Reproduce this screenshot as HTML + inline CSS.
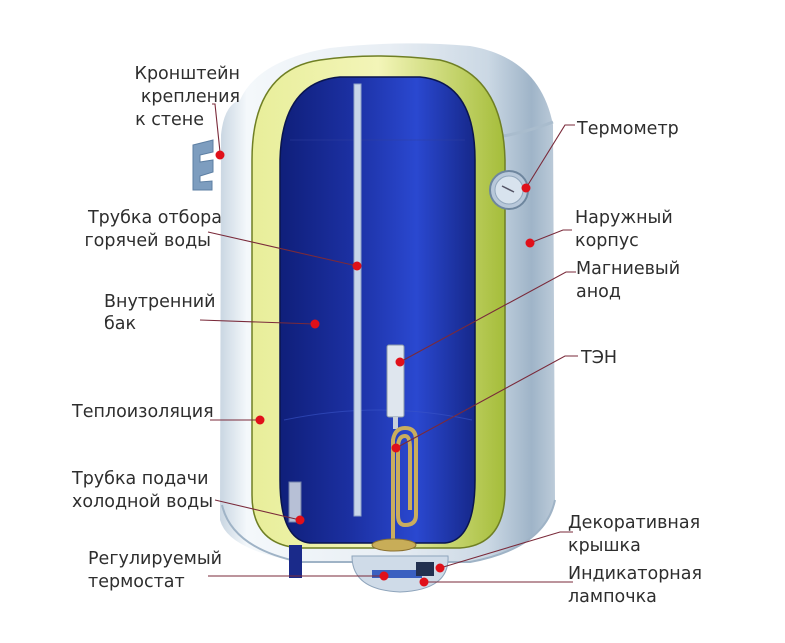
<!DOCTYPE html>
<html><head><meta charset="utf-8"><style>
html,body{margin:0;padding:0;background:#fff;}
svg{display:block;}
text{font-family:"DejaVu Sans","Liberation Sans",sans-serif;font-size:17.5px;fill:#2e2e2e;}
</style></head><body>
<svg width="785" height="643" viewBox="0 0 785 643" xmlns="http://www.w3.org/2000/svg">
<defs>
<linearGradient id="silver" x1="0" x2="1" y1="0" y2="0">
<stop offset="0" stop-color="#c9d6e2"/><stop offset="0.08" stop-color="#f4f8fb"/>
<stop offset="0.5" stop-color="#e8eef4"/><stop offset="0.8" stop-color="#cbd8e4"/>
<stop offset="0.93" stop-color="#9fb4c8"/><stop offset="1" stop-color="#bccbd9"/></linearGradient>
<linearGradient id="blue" x1="0" x2="1" y1="0" y2="0">
<stop offset="0" stop-color="#0f1f7a"/><stop offset="0.35" stop-color="#1b2fa0"/>
<stop offset="0.7" stop-color="#2a48d0"/><stop offset="1" stop-color="#16288a"/></linearGradient>
<linearGradient id="yel" x1="0" x2="1" y1="0" y2="0">
<stop offset="0" stop-color="#e8ee9a"/><stop offset="0.5" stop-color="#f3f5b8"/><stop offset="1" stop-color="#a5bd3a"/></linearGradient>
<linearGradient id="gold" x1="0" x2="1"><stop offset="0" stop-color="#a88a3a"/><stop offset="0.5" stop-color="#e6cf86"/><stop offset="1" stop-color="#9c7e30"/></linearGradient>
</defs>

<!-- outer body -->
<path d="M220,520 L221,135 Q224,105 240,100 Q258,60 330,48 Q400,40 470,46 Q540,58 553,125 L555,500 Q548,545 470,562 L300,562 Q228,550 220,520 Z" fill="url(#silver)"/>
<path d="M478,140 Q520,135 553,122" stroke="#a9bccd" stroke-width="3" fill="none"/>
<path d="M222,505 Q232,548 300,562 L470,562 Q545,548 555,500" stroke="#9fb3c6" stroke-width="2" fill="none"/>
<!-- bracket -->
<path d="M193,145 L213,140 L213,152 L200,155 L200,162 L213,160 L213,172 L200,176 L200,182 L212,181 L212,190 L193,190 Z" fill="#7d9dbf" stroke="#5d7fa3"/>

<!-- insulation -->
<path d="M252,160 Q252,70 320,60 Q375,52 440,60 Q503,75 505,160 L505,490 Q505,545 460,548 L300,548 Q252,545 252,495 Z" fill="url(#yel)" stroke="#6f7f24" stroke-width="1.5"/>
<!-- inner tank -->
<path d="M280,160 Q282,82 340,77 L420,77 Q475,82 475,160 L475,480 Q475,540 445,543 L310,543 Q280,540 280,480 Z" fill="url(#blue)" stroke="#0a154f" stroke-width="1.5"/>
<path d="M284,420 Q380,400 472,420" stroke="#3a55c8" stroke-width="1" fill="none" opacity="0.6"/>
<path d="M290,140 L465,140" stroke="#3040a0" stroke-width="1" opacity="0.5"/>

<!-- hot water pipe -->
<rect x="354" y="84" width="7" height="432" fill="#c8d6ea" stroke="#8fa3c8" stroke-width="1"/>
<!-- cold pipe -->
<rect x="289" y="482" width="12" height="40" fill="#b7c0d6" stroke="#7080a8"/>
<rect x="289" y="545" width="13" height="33" fill="#1a2a8a"/>

<!-- anode -->
<rect x="387" y="345" width="17" height="72" rx="2" fill="#dfe6ee" stroke="#8a98a8"/>
<rect x="393" y="417" width="5" height="12" fill="#c8d0da"/>
<!-- heating element -->
<path d="M383,343 L383,540" stroke="url(#gold)" stroke-width="5" fill="none"/>
<path d="M393,540 L393,440 Q395,428 405,428 Q416,428 416,440 L416,515 Q416,525 405,525 Q398,525 398,515 L398,448 Q398,436 405,436 Q410,436 410,448 L410,510" stroke="#c9ad5e" stroke-width="4" fill="none"/>
<ellipse cx="394" cy="545" rx="22" ry="6" fill="#c8ad58" stroke="#8a7030"/>
<!-- bottom cap -->
<path d="M352,556 L448,556 Q450,590 400,592 Q352,590 352,556 Z" fill="#cfdbe8" stroke="#8ea4bb"/>
<rect x="372" y="570" width="50" height="8" fill="#3a60c0"/>
<rect x="416" y="562" width="18" height="14" fill="#223050"/>

<!-- thermometer -->
<circle cx="509" cy="190" r="19" fill="#b8c8da" stroke="#6e869e" stroke-width="2"/>
<circle cx="509" cy="190" r="14" fill="#d8e3ee" stroke="#93a8bd"/>
<line x1="502" y1="186" x2="514" y2="192" stroke="#556" stroke-width="1.5"/>

<!-- leader lines -->
<g stroke="#7a2a3a" stroke-width="1.1" fill="none">
<path d="M212,104 L215,104 L220,152"/>
<path d="M208,232 L357,266"/>
<path d="M200,320 L315,324"/>
<path d="M210,420 L260,420"/>
<path d="M215,500 L300,520"/>
<path d="M208,576 L384,576"/>
<path d="M575,125 L565,125 L526,188"/>
<path d="M572,230 L563,230 L530,243"/>
<path d="M576,272 L566,272 L400,362"/>
<path d="M578,356 L565,356 L396,448"/>
<path d="M573,532 L560,532 L440,568"/>
<path d="M573,582 L424,582"/>
</g>
<g fill="#e0101a">
<circle cx="220" cy="155" r="4.5"/><circle cx="357" cy="266" r="4.5"/>
<circle cx="315" cy="324" r="4.5"/><circle cx="260" cy="420" r="4.5"/>
<circle cx="300" cy="520" r="4.5"/><circle cx="384" cy="576" r="4.5"/>
<circle cx="526" cy="188" r="4.5"/><circle cx="530" cy="243" r="4.5"/>
<circle cx="400" cy="362" r="4.5"/><circle cx="396" cy="448" r="4.5"/>
<circle cx="440" cy="568" r="4.5"/><circle cx="424" cy="582" r="4.5"/>
</g>

<!-- labels -->
<g text-anchor="end">
<text x="240" y="79">Кронштейн</text>
<text x="240" y="102">крепления</text>
<text x="204" y="125">к стене</text>
<text x="222" y="223">Трубка отбора</text>
<text x="211" y="246">горячей воды</text>
</g>
<text x="104" y="307">Внутренний</text>
<text x="104" y="329">бак</text>
<text x="72" y="417">Теплоизоляция</text>
<text x="72" y="484">Трубка подачи</text>
<text x="72" y="507">холодной воды</text>
<text x="88" y="564">Регулируемый</text>
<text x="88" y="587">термостат</text>
<text x="577" y="134">Термометр</text>
<text x="575" y="223">Наружный</text>
<text x="575" y="246">корпус</text>
<text x="576" y="274">Магниевый</text>
<text x="576" y="297">анод</text>
<text x="581" y="363">ТЭН</text>
<text x="568" y="528">Декоративная</text>
<text x="568" y="551">крышка</text>
<text x="568" y="579">Индикаторная</text>
<text x="568" y="602">лампочка</text>
</svg>
</body></html>
